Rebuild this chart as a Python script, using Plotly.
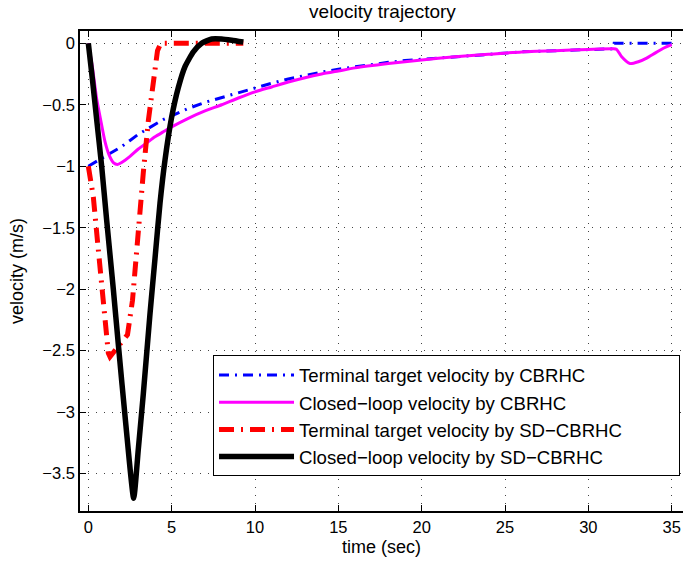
import plotly.graph_objects as go

# Terminal target velocity by CBRHC (blue, dash-dot)
t_blue = [0, 0.5, 1, 1.5, 2, 2.5, 3, 3.5, 4, 4.5, 5, 6, 7, 8, 9, 10, 11, 12, 13, 14, 15,
          16, 17, 18, 19, 20, 22, 24, 26, 28, 30, 31.5, 31.55, 32, 33, 34, 35]
v_blue = [-1.0, -0.96, -0.92, -0.88, -0.84, -0.79, -0.74, -0.70, -0.66, -0.62, -0.59, -0.53,
          -0.48, -0.44, -0.40, -0.36, -0.325, -0.29, -0.26, -0.235, -0.21, -0.19, -0.17, -0.155,
          -0.14, -0.13, -0.11, -0.09, -0.07, -0.06, -0.05, -0.045, 0, 0, 0, 0, 0]

# Closed-loop velocity by CBRHC (magenta, solid)
t_mag = [0, 0.25, 0.5, 0.75, 1, 1.25, 1.5, 1.75, 2, 2.5, 3, 3.5, 4, 4.5, 5, 6, 7, 8, 9, 10,
         11, 12, 13, 14, 15, 16, 18, 20, 22, 24, 26, 28, 30, 31.5, 31.7, 32, 32.5, 33, 33.5,
         34, 34.5, 35]
v_mag = [0, -0.2, -0.45, -0.63, -0.8, -0.91, -0.97, -0.985, -0.97, -0.92, -0.86, -0.81,
         -0.76, -0.72, -0.68, -0.61, -0.55, -0.50, -0.445, -0.395, -0.355, -0.315, -0.28, -0.25,
         -0.225, -0.20, -0.165, -0.135, -0.11, -0.09, -0.07, -0.06, -0.05, -0.045, -0.05, -0.11,
         -0.165, -0.15, -0.12, -0.08, -0.04, -0.01]

# Terminal target velocity by SD-CBRHC (red, thick dash-dot)
t_red = [0, 0.3, 0.6, 0.9, 1.2, 1.3, 2.35, 2.65, 3.0, 3.3, 3.6, 3.9, 4.15, 4.35, 5, 6, 7, 8,
         9, 9.3]
v_red = [-1.0, -1.25, -1.68, -2.09, -2.52, -2.55, -2.37, -2.09, -1.5, -1.05, -0.63, -0.3,
         -0.06, 0, 0, 0, 0, 0, 0, 0]

# Closed-loop velocity by SD-CBRHC (black, thick solid)
t_blk = [0, 0.25, 0.5, 0.8, 1.1, 1.5, 1.8, 2.25, 2.72, 3.0, 3.3, 3.7, 4.0, 4.3, 4.6, 5.0,
         5.4, 5.8, 6.3, 6.8, 7.4, 8.0, 8.6, 9.3]
v_blk = [0, -0.3, -0.62, -1.0, -1.44, -2.0, -2.45, -3.1, -3.7, -3.3, -2.85, -2.2, -1.75,
         -1.3, -0.95, -0.6, -0.36, -0.19, -0.07, 0.0, 0.035, 0.035, 0.025, 0.01]

PAD = "\u00a0" * 10
names = ["Terminal target velocity by CBRHC",
         "Closed\u2212loop velocity by CBRHC",
         "Terminal target velocity by SD\u2212CBRHC" + PAD,
         "Closed\u2212loop velocity by SD\u2212CBRHC"]

x_ticks = [0, 5, 10, 15, 20, 25, 30, 35]
y_ticks = [0, -0.5, -1, -1.5, -2, -2.5, -3, -3.5]
y_ticktext = ["0", "\u22120.5", "\u22121", "\u22121.5", "\u22122", "\u22122.5", "\u22123", "\u22123.5"]

FONT = "Liberation Sans, Arial, Helvetica, sans-serif"

fig = go.Figure()
fig.add_trace(go.Scatter(x=t_blue, y=v_blue, mode="lines", name=names[0], legendgroup="a",
                         line=dict(color="#0000ff", width=3, dash="10px,6px,2px,6px")))
fig.add_trace(go.Scatter(x=t_mag, y=v_mag, mode="lines", name=names[1], legendgroup="b",
                         line=dict(color="#ff00ff", width=3, shape="spline", smoothing=0.6)))
fig.add_trace(go.Scatter(x=t_red, y=v_red, mode="lines", name=names[2], legendgroup="c",
                         line=dict(color="#ff0000", width=5, dash="15px,7px,2px,7px")))
fig.add_trace(go.Scatter(x=t_blk, y=v_blk, mode="lines", name=names[3], legendgroup="d",
                         line=dict(color="#000000", width=5.5, shape="spline", smoothing=0.5)))

axis_common = dict(
    showline=True, linecolor="black", linewidth=1.5,
    ticks="inside", ticklen=6, tickcolor="black",
    showgrid=True, gridcolor="#444444", gridwidth=1, griddash="1px,7px",
    zeroline=False,
    tickfont=dict(family=FONT, size=16.5, color="black"),
)

fig.update_xaxes(range=[-0.5, 35.68], tickvals=x_ticks, mirror="allticks",
                 title=dict(text="time (sec)", font=dict(family=FONT, size=18, color="black"),
                            standoff=6),
                 **axis_common)
fig.update_yaxes(range=[-3.804, 0.1], tickvals=y_ticks, ticktext=y_ticktext, mirror=False,
                 title=dict(text="velocity (m/s)", font=dict(family=FONT, size=18, color="black"),
                            standoff=14),
                 **axis_common)

fig.update_layout(
    width=683, height=562,
    margin=dict(l=80, r=0, t=31, b=51),
    paper_bgcolor="white", plot_bgcolor="white",
    title=dict(text="velocity trajectory", x=0.56, xanchor="center", y=0.98, yanchor="middle",
               font=dict(family=FONT, size=19, color="black")),
    font=dict(family=FONT, color="black"),
    legend=dict(x=0.2206, y=0.324, xanchor="left", yanchor="top",
                bgcolor="white", bordercolor="black", borderwidth=1,
                font=dict(family=FONT, size=18.6, color="black"),
                itemwidth=75, tracegroupgap=1.5, traceorder="normal"),
    showlegend=True,
)

fig.write_html("out.html")
